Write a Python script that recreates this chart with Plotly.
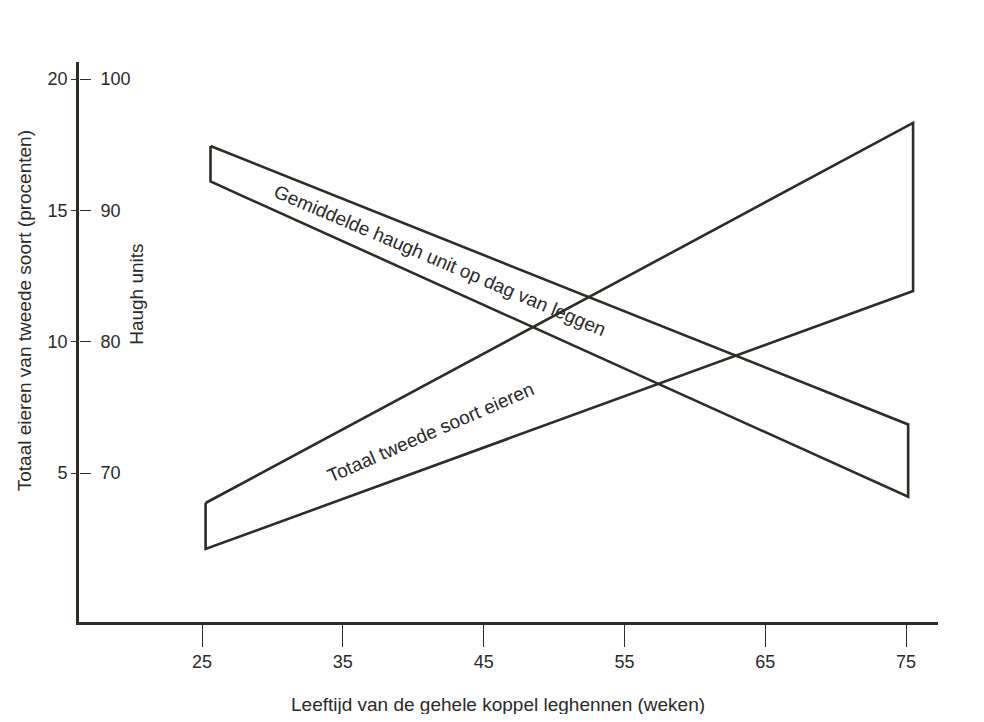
import plotly.graph_objects as go

# Data
weeks_ticks = [25, 35, 45, 55, 65, 75]
pct_ticks = [5, 10, 15, 20]
haugh_ticks = [70, 80, 90, 100]

# Band "Gemiddelde haugh unit op dag van leggen" (Haugh units)
haugh_x = [25.6, 75.15]
haugh_upper = [94.9, 73.7]
haugh_lower = [92.2, 68.2]

# Band "Totaal tweede soort eieren" (procenten)
tweede_x = [25.25, 75.5]
tweede_upper = [3.86, 18.33]
tweede_lower = [2.11, 11.93]

INK = "#2d2d26"
FONT = "Liberation Sans, Arial, sans-serif"

def closed(xs, up, lo):
    x = [xs[0], xs[1], xs[1], xs[0], xs[0]]
    y = [up[0], up[1], lo[1], lo[0], up[0]]
    return x, y

fig = go.Figure()
hx, hy = closed(haugh_x, haugh_upper, haugh_lower)
tx, ty = closed(tweede_x, tweede_upper, tweede_lower)
fig.add_trace(go.Scatter(x=tx, y=ty, mode="lines", line=dict(color=INK, width=2.6),
                         showlegend=False, hoverinfo="skip", yaxis="y"))
fig.add_trace(go.Scatter(x=hx, y=hy, mode="lines", line=dict(color=INK, width=2.6),
                         showlegend=False, hoverinfo="skip", yaxis="y2"))

y_lo, y_hi = -0.67, 20.65
ann = dict(showarrow=False, xanchor="center", yanchor="middle")
fig.update_layout(
    width=968, height=706,
    margin=dict(l=71, r=38, t=54, b=92),
    paper_bgcolor="white", plot_bgcolor="white",
    font=dict(family=FONT, color="#2a2a2a", size=18),
    xaxis=dict(range=[16.26, 77.27], tickvals=weeks_ticks, ticks="outside", ticklen=22,
               tickwidth=1.3, tickcolor=INK, showline=True, linecolor=INK, linewidth=2.6,
               showgrid=False, zeroline=False, tickfont=dict(size=18)),
    yaxis=dict(range=[y_lo, y_hi], tickvals=pct_ticks, ticks="outside", ticklen=5,
               tickwidth=1.3, tickcolor=INK, showline=True, linecolor=INK, linewidth=2.6,
               showgrid=False, zeroline=False, tickfont=dict(size=18)),
    yaxis2=dict(range=[60 + 2 * y_lo, 60 + 2 * y_hi], tickvals=haugh_ticks, overlaying="y",
                side="right", anchor="free", position=0, ticks="outside", ticklen=11,
                tickwidth=1.3, tickcolor=INK, showline=False, showgrid=False,
                zeroline=False, tickfont=dict(size=18), ticklabelstandoff=6),
    annotations=[
        dict(text="Totaal eieren van tweede soort (procenten)", xref="paper", yref="paper",
             x=-0.064, y=0.555, textangle=-90, font=dict(size=19), **ann),
        dict(text="Haugh units", xref="paper", yref="paper",
             x=0.0675, y=0.586, textangle=-90, font=dict(size=19), **ann),
        dict(text="Leeftijd van de gehele koppel leghennen (weken)", xref="paper", yref="paper",
             x=0.488, y=-0.148, font=dict(size=19), **ann),
        dict(text="Gemiddelde haugh unit op dag van leggen", xref="x", yref="y",
             x=41.9, y=13.11, textangle=23, font=dict(size=19), **ann),
        dict(text="Totaal tweede soort eieren", xref="x", yref="y",
             x=41.19, y=6.56, textangle=-23.5, font=dict(size=19), **ann),
    ],
)

fig.write_html("out.html")
